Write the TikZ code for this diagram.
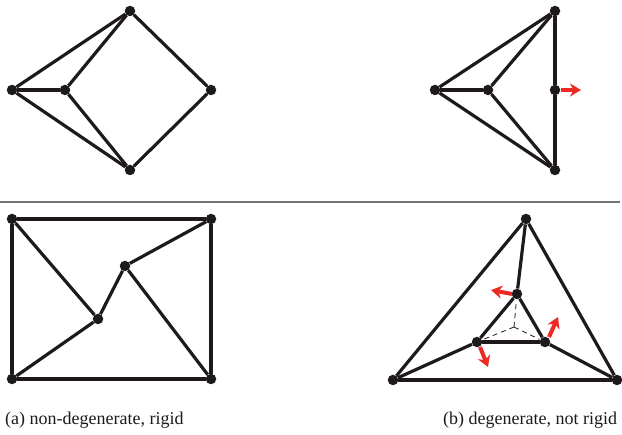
\documentclass[tikz,border=0pt]{standalone}
\usepackage{fontspec}
\setmainfont{Liberation Serif}
\usetikzlibrary{arrows.meta,calc}
\definecolor{arrred}{RGB}{237,41,36}
\definecolor{edgeblk}{RGB}{30,26,27}
\tikzset{
  dot/.style={circle,fill=edgeblk,inner sep=0pt,minimum size=10.5pt},
  edge/.style={draw=edgeblk,line width=3.2pt},
  motion/.style={draw=arrred,line width=4pt,-{Stealth[length=11pt,width=13pt]}},
  hidden/.style={draw=edgeblk,line width=0.8pt,dash pattern=on 5pt off 4pt},
  caption/.style={anchor=base west,font=\fontsize{18pt}{20pt}\selectfont,inner sep=0pt,text=edgeblk}
}
\begin{document}
\begin{tikzpicture}[x=1pt,y=-1pt]
\useasboundingbox (0,0) rectangle (622,435);
% (a) top
\node[dot] (at) at (130,11) {};
\node[dot] (al) at (12,90) {};
\node[dot] (ai) at (65,90) {};
\node[dot] (ar) at (211,90) {};
\node[dot] (ab) at (130,170) {};
\draw[edge] (al) -- (at);
\draw[edge] (al) -- (ai);
\draw[edge] (al) -- (ab);
\draw[edge] (ai) -- (at);
\draw[edge] (ai) -- (ab);
\draw[edge] (at) -- (ar);
\draw[edge] (ar) -- (ab);
% (b) top
\node[dot] (bt) at (555,11) {};
\node[dot] (bl) at (435,90) {};
\node[dot] (bi) at (488,90) {};
\node[dot] (bm) at (555,90) {};
\node[dot] (bb) at (555,170) {};
\draw[edge] (bl) -- (bt);
\draw[edge] (bl) -- (bi);
\draw[edge] (bl) -- (bb);
\draw[edge] (bi) -- (bt);
\draw[edge] (bi) -- (bb);
\draw[edge] (bt) -- (bm);
\draw[edge] (bm) -- (bb);
\coordinate (bms) at (561,90);
\coordinate (bme) at (581,90);
\draw[motion] (bms) -- (bme);
% separator
\coordinate (sepl) at (0,202);
\coordinate (sepr) at (620,202);
\draw[draw=gray!90!black,line width=1.2pt] (sepl) -- (sepr);
% (a) bottom
\node[dot] (ctl) at (12,219) {};
\node[dot] (ctr) at (211,219) {};
\node[dot] (cbl) at (12,379) {};
\node[dot] (cbr) at (211,379) {};
\node[dot] (ca) at (125,266) {};
\node[dot] (cb) at (98,319) {};
\draw[edge] (ctl) -- (ctr);
\draw[edge] (ctl) -- (cbl);
\draw[edge] (ctr) -- (cbr);
\draw[edge] (cbl) -- (cbr);
\draw[edge] (ctl) -- (cb);
\draw[edge] (cb) -- (ca);
\draw[edge] (ca) -- (ctr);
\draw[edge] (ca) -- (cbr);
\draw[edge] (cb) -- (cbl);
% (b) bottom
\node[dot] (dt) at (526,219) {};
\node[dot] (dl) at (393,380) {};
\node[dot] (dr) at (617,380) {};
\node[dot] (it) at (517,294) {};
\node[dot] (il) at (477,342) {};
\node[dot] (ir) at (545,342) {};
\coordinate (ic) at (514,327);
\draw[edge] (dt) -- (dl);
\draw[edge] (dt) -- (dr);
\draw[edge] (dl) -- (dr);
\draw[edge] (dt) -- (it);
\draw[edge] (dl) -- (il);
\draw[edge] (dr) -- (ir);
\draw[edge] (it) -- (il);
\draw[edge] (il) -- (ir);
\draw[edge] (ir) -- (it);
\draw[hidden] (ic) -- ($(ic)!0.8!(it)$);
\draw[hidden] (ic) -- ($(ic)!0.82!(il)$);
\draw[hidden] (ic) -- ($(ic)!0.82!(ir)$);
\coordinate (m1s) at (512,294);
\coordinate (m1e) at (491,290);
\coordinate (m2s) at (549,337);
\coordinate (m2e) at (558,317);
\coordinate (m3s) at (480,347);
\coordinate (m3e) at (488,367);
\draw[motion] (m1s) -- (m1e);
\draw[motion] (m2s) -- (m2e);
\draw[motion] (m3s) -- (m3e);
% captions
\node[caption] (capa) at (5,425) {(a) non-degenerate, rigid};
\node[caption] (capb) at (443,425) {(b) degenerate, not rigid};
\end{tikzpicture}
\end{document}
